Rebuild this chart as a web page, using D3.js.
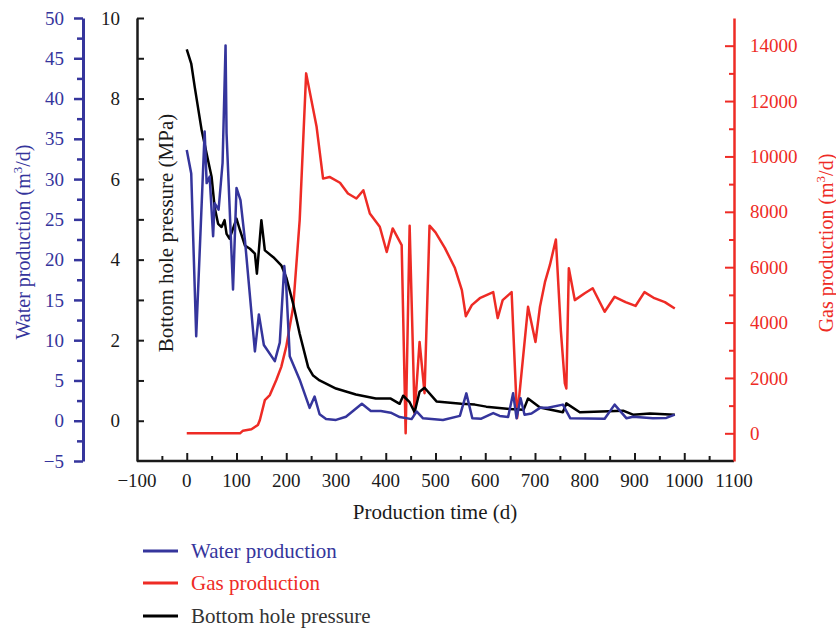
<!DOCTYPE html>
<html>
<head>
<meta charset="utf-8">
<script src="https://cdn.jsdelivr.net/npm/d3@7"></script>
<style>
  body { margin: 0; background: #fff; }
  text { font-family: "Liberation Serif", "DejaVu Serif", serif; }
</style>
</head>
<body>
<div id="chart"></div>
<script>
// ===== data =====
var waterDays = [0, 9, 19, 36, 40, 46, 53, 56, 64, 72, 78, 80, 93, 100, 108, 117, 137, 145, 155, 177, 187, 196, 200, 207, 227, 247, 257, 267, 280, 300, 320, 352, 370, 390, 410, 428, 452, 462, 475, 515, 549, 562, 574, 592, 616, 629, 646, 656, 663, 671, 679, 693, 710, 726, 756, 771, 840, 860, 884, 897, 937, 964, 981];
var waterValues = [33.6, 30.7, 10.5, 35.9, 29.5, 30.3, 22.9, 27, 26.2, 32, 46.6, 35.7, 16.3, 28.9, 27.4, 22.4, 8.6, 13.2, 9.4, 7.4, 9.7, 19.2, 16.7, 8, 5.1, 1.6, 3.0, 0.8, 0.2, 0.1, 0.5, 2.1, 1.2, 1.2, 1.0, 0.45, 0.2, 1.15, 0.3, 0.1, 0.6, 3.4, 0.3, 0.25, 0.95, 0.6, 0.45, 3.4, 0.3, 2.8, 0.75, 0.9, 1.6, 1.6, 2.0, 0.3, 0.25, 2.0, 0.3, 0.5, 0.3, 0.35, 0.75];

var pressureDays = [0, 9, 16, 30, 40, 50, 56, 63, 70, 76, 80, 86, 100, 107, 117, 127, 137, 141, 150, 157, 174, 190, 200, 214, 227, 244, 254, 267, 300, 340, 380, 410, 428, 435, 448, 458, 468, 478, 502, 552, 579, 602, 649, 677, 686, 710, 756, 763, 790, 877, 897, 931, 981];
var pressureValues = [9.22, 8.87, 8.29, 7.21, 6.63, 6.05, 5.31, 4.89, 4.81, 4.98, 4.64, 4.52, 5.02, 4.73, 4.35, 4.27, 4.15, 3.65, 4.98, 4.23, 4.06, 3.86, 3.56, 2.90, 2.16, 1.33, 1.12, 1.0, 0.8, 0.65, 0.55, 0.55, 0.42, 0.62, 0.46, 0.21, 0.72, 0.82, 0.48, 0.42, 0.4, 0.35, 0.29, 0.27, 0.55, 0.33, 0.21, 0.43, 0.21, 0.25, 0.15, 0.18, 0.15];

var gasDays = [0, 107, 113, 130, 143, 147, 157, 167, 180, 190, 200, 214, 227, 240, 261, 274, 287, 308, 324, 341, 355, 368, 388, 402, 414, 432, 440, 448, 458, 468, 478, 488, 500, 519, 539, 553, 561, 573, 589, 616, 625, 635, 653, 664, 686, 701, 710, 720, 730, 742, 752, 760, 763, 768, 780, 800, 816, 840, 860, 882, 902, 920, 940, 961, 981];
var gasValues = [0, 0, 95, 145, 300, 480, 1200, 1380, 1925, 2400, 3130, 4570, 7700, 13000, 11070, 9200, 9260, 9050, 8660, 8480, 8780, 7940, 7460, 6550, 7400, 6800, 0, 7500, 700, 3300, 1450, 7500, 7260, 6690, 5970, 5170, 4230, 4630, 4880, 5100, 4160, 4810, 5100, 550, 4570, 3300, 4570, 5460, 6080, 7000, 3700, 1800, 1620, 5960, 4810, 5060, 5240, 4390, 4930, 4740, 4600, 5100, 4880, 4740, 4510];

// tick labels
var timeTicks = [-100, 0, 100, 200, 300, 400, 500, 600, 700, 800, 900, 1000, 1100];
var waterTicks = [-5, 0, 5, 10, 15, 20, 25, 30, 35, 40, 45, 50];
var pressureTicks = [0, 2, 4, 6, 8, 10];
var gasTicks = [0, 2000, 4000, 6000, 8000, 10000, 12000, 14000];

var legendNames = ["Water production", "Gas production", "Bottom hole pressure"];

function draw()
{
  var w = 836;
  var h = 629;

  var blue = "#35359c";
  var red = "#ee2b25";
  var dark = "#1a1a1a";
  var tickFont = "19px";

  var svg = d3.select("#chart")
              .append("svg")
              .attr("width", w)
              .attr("height", h);

  // plot box
  var left = 137, right = 734, top = 18, bottom = 461;

  var x = d3.scaleLinear().domain([-100, 1100]).range([left, right]);
  var yWater = d3.scaleLinear().domain([-5, 50]).range([bottom, top]);
  var yPressure = d3.scaleLinear().domain([-1, 10]).range([bottom, top]);
  var yGas = d3.scaleLinear().domain([-1000, 15000]).range([bottom, top]);

  // ----- x axis (ticks point inward) -----
  var xMinor = d3.range(-50, 1100, 100);
  svg.append("g")
     .attr("transform", "translate(0," + bottom + ")")
     .call(d3.axisTop(x).tickValues(xMinor).tickSize(5).tickFormat(""))
     .call(function(g) { g.select(".domain").remove(); })
     .selectAll("line").attr("stroke", dark).attr("stroke-width", 2);

  var xAxis = svg.append("g")
     .attr("transform", "translate(0," + bottom + ")")
     .call(d3.axisTop(x).tickValues(timeTicks.slice(1, -1)).tickSize(8).tickFormat(""));
  xAxis.select(".domain").remove();
  xAxis.selectAll("line").attr("stroke", dark).attr("stroke-width", 2);

  svg.append("line")
     .attr("x1", left).attr("x2", right)
     .attr("y1", bottom).attr("y2", bottom)
     .attr("stroke", dark).attr("stroke-width", 2.5);

  svg.append("g")
     .selectAll("text")
     .data(timeTicks)
     .enter()
     .append("text")
     .attr("x", function(d) { return x(d); })
     .attr("y", bottom + 26)
     .attr("text-anchor", "middle")
     .attr("font-size", tickFont)
     .attr("fill", dark)
     .text(function(d) { return d3.format("")(d); });

  svg.append("text")
     .attr("x", 435)
     .attr("y", 519)
     .attr("text-anchor", "middle")
     .attr("font-size", "21px")
     .attr("fill", dark)
     .text("Production time (d)");

  // ----- water axis (outside, left) -----
  var waterX = 83;
  var wMinor = d3.range(-2.5, 50, 5);
  svg.append("g")
     .attr("transform", "translate(" + waterX + ",0)")
     .call(d3.axisLeft(yWater).tickValues(wMinor).tickSize(6).tickFormat(""))
     .call(function(g) { g.select(".domain").remove(); })
     .selectAll("line").attr("stroke", blue).attr("stroke-width", 2.5);

  var wAxis = svg.append("g")
     .attr("transform", "translate(" + waterX + ",0)")
     .call(d3.axisLeft(yWater).tickValues(waterTicks).tickSize(9).tickPadding(10).tickSizeOuter(0));
  wAxis.select(".domain").attr("stroke", blue).attr("stroke-width", 3);
  wAxis.selectAll("line").attr("stroke", blue).attr("stroke-width", 2.5);
  wAxis.selectAll("text")
       .attr("fill", blue)
       .attr("font-size", tickFont)
       .attr("font-family", "Liberation Serif, serif");

  var wTitle = svg.append("text")
     .attr("transform", "translate(30,242) rotate(-90)")
     .attr("text-anchor", "middle")
     .attr("font-size", "20px")
     .attr("fill", blue);
  wTitle.append("tspan").text("Water production (m");
  wTitle.append("tspan").attr("font-size", "13px").attr("dy", -8).text("3");
  wTitle.append("tspan").attr("dy", 8).text("/d)");

  // ----- pressure axis (plot left edge, ticks inward) -----
  var pAxis = svg.append("g")
     .attr("transform", "translate(" + left + ",0)")
     .call(d3.axisRight(yPressure).tickValues(d3.range(0, 11, 1)).tickSize(7).tickSizeOuter(0).tickFormat(""));
  pAxis.select(".domain").attr("stroke", dark).attr("stroke-width", 2.5);
  pAxis.selectAll("line").attr("stroke", dark).attr("stroke-width", 2);

  svg.append("g")
     .selectAll("text")
     .data(pressureTicks)
     .enter()
     .append("text")
     .attr("x", 120)
     .attr("y", function(d) { return yPressure(d); })
     .attr("dy", "0.35em")
     .attr("text-anchor", "end")
     .attr("font-size", tickFont)
     .attr("fill", dark)
     .text(function(d) { return d; });

  svg.append("text")
     .attr("transform", "translate(173,233) rotate(-90)")
     .attr("text-anchor", "middle")
     .attr("font-size", "21px")
     .attr("fill", dark)
     .text("Bottom hole pressure (MPa)");

  // ----- gas axis (plot right edge, ticks inward) -----
  var gMinor = d3.range(1000, 15000, 2000);
  svg.append("g")
     .attr("transform", "translate(" + right + ",0)")
     .call(d3.axisLeft(yGas).tickValues(gMinor).tickSize(5).tickFormat(""))
     .call(function(g) { g.select(".domain").remove(); })
     .selectAll("line").attr("stroke", red).attr("stroke-width", 2);

  var gAxis = svg.append("g")
     .attr("transform", "translate(" + right + ",0)")
     .call(d3.axisLeft(yGas).tickValues(gasTicks).tickSize(9).tickSizeOuter(0).tickFormat(""));
  gAxis.select(".domain").attr("stroke", red).attr("stroke-width", 2.5);
  gAxis.selectAll("line").attr("stroke", red).attr("stroke-width", 2);

  svg.append("g")
     .selectAll("text")
     .data(gasTicks)
     .enter()
     .append("text")
     .attr("x", 750)
     .attr("y", function(d) { return yGas(d); })
     .attr("dy", "0.35em")
     .attr("font-size", tickFont)
     .attr("fill", red)
     .text(function(d) { return d; });

  var gTitle = svg.append("text")
     .attr("transform", "translate(833,243) rotate(-90)")
     .attr("text-anchor", "middle")
     .attr("font-size", "20px")
     .attr("fill", red);
  gTitle.append("tspan").text("Gas production (m");
  gTitle.append("tspan").attr("font-size", "13px").attr("dy", -8).text("3");
  gTitle.append("tspan").attr("dy", 8).text("/d)");

  // ----- series -----
  function series(days, values, yScale, color)
  {
    var pts = days.map(function(d, i) { return [d, values[i]]; });
    var line = d3.line()
                 .x(function(d) { return x(d[0]); })
                 .y(function(d) { return yScale(d[1]); });
    svg.append("path")
       .datum(pts)
       .attr("d", line)
       .attr("fill", "none")
       .attr("stroke", color)
       .attr("stroke-width", 2.5)
       .attr("stroke-linejoin", "round");
  }

  series(gasDays, gasValues, yGas, red);
  series(pressureDays, pressureValues, yPressure, "#000");
  series(waterDays, waterValues, yWater, blue);

  // ----- legend -----
  var legendColors = [blue, red, "#000"];
  var legendText = [blue, red, "#333"];
  var legendY = [551, 583, 616];

  var lg = svg.selectAll("g.legend")
              .data(legendNames)
              .enter()
              .append("g")
              .attr("class", "legend")
              .attr("transform", function(d, i) { return "translate(0," + legendY[i] + ")"; });

  lg.append("line")
    .attr("x1", 143).attr("x2", 178)
    .attr("y1", 0).attr("y2", 0)
    .attr("stroke", function(d, i) { return legendColors[i]; })
    .attr("stroke-width", 3);

  lg.append("text")
    .attr("x", 191)
    .attr("dy", "0.33em")
    .attr("font-size", "21px")
    .attr("fill", function(d, i) { return legendText[i]; })
    .text(function(d) { return d; });
}

window.onload = draw;
</script>
</body>
</html>
